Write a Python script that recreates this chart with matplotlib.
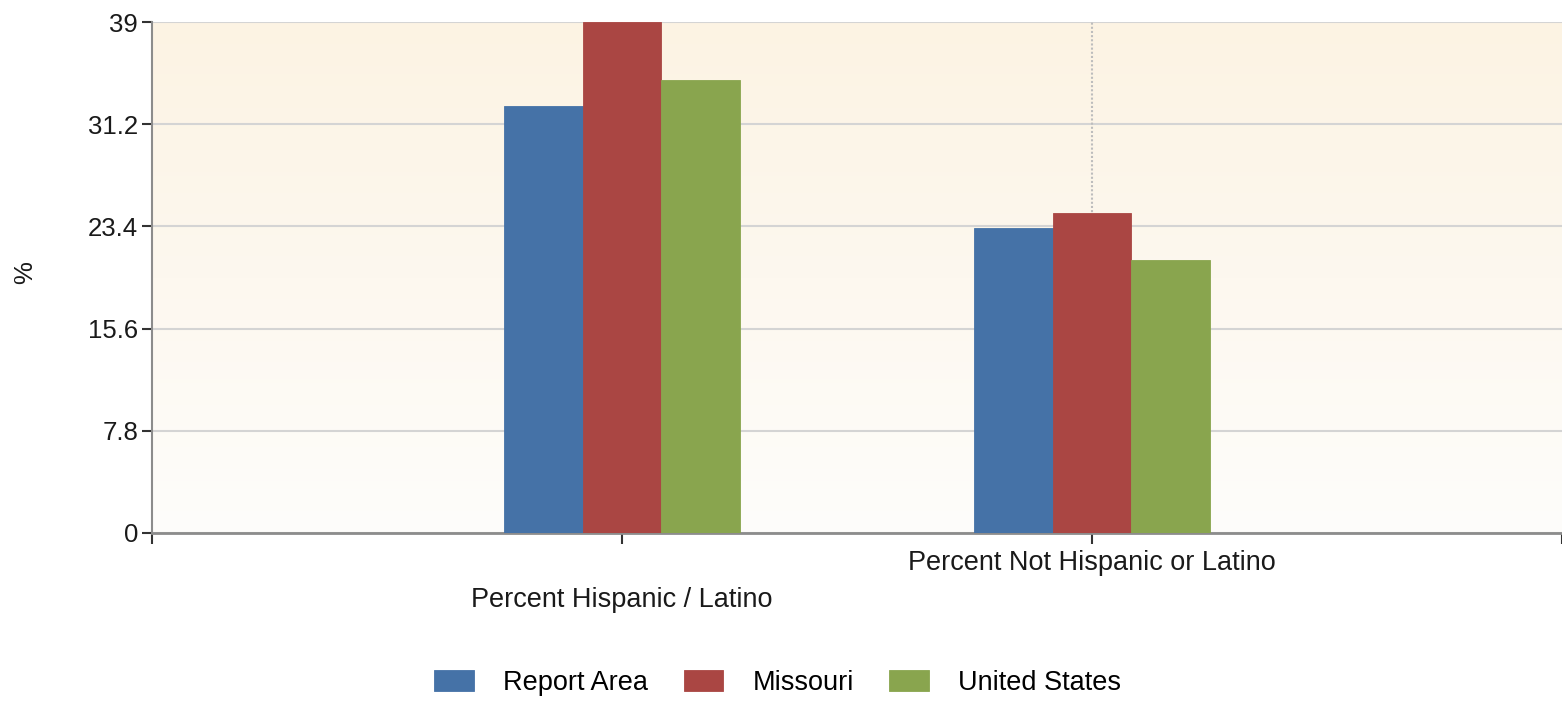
import numpy as np
import matplotlib
matplotlib.use("Agg")
import matplotlib.pyplot as plt
from matplotlib.colors import LinearSegmentedColormap

categories = ["Percent Hispanic / Latino", "Percent Not Hispanic or Latino"]
series_names = ["Report Area", "Missouri", "United States"]
report_area = [32.6, 23.3]
missouri = [39.0, 24.4]
united_states = [34.6, 20.8]
yticks = [0, 7.8, 15.6, 23.4, 31.2, 39]
ytick_labels = ["0", "7.8", "15.6", "23.4", "31.2", "39"]

colors = ["#4572A7", "#AA4643", "#89A54E"]
FS = 18.5
FS2 = 19.5

plt.rcParams['font.family'] = ['Liberation Sans', 'DejaVu Sans']

fig = plt.figure(figsize=(15.62, 7.01), dpi=100)
ax = fig.add_axes([152/1562, 1 - 533/701, 1 - 152/1562, (533 - 22)/701])

# gradient background
cmap = LinearSegmentedColormap.from_list("bg", ["#FEFDFB", "#FCF3E3"])
grad = np.linspace(0, 1, 256).reshape(-1, 1)
ax.imshow(grad, cmap=cmap, aspect='auto', extent=[0, 1, 0, 1],
          transform=ax.transAxes, origin='lower', zorder=0)

x = np.arange(len(categories))
w = 0.167
all_series = [report_area, missouri, united_states]
for i, (vals, name, c) in enumerate(zip(all_series, series_names, colors)):
    ax.bar(x + (i - 1) * w, vals, width=w, color=c, label=name,
           edgecolor=c, linewidth=0.6, zorder=3)

ax.set_ylim(0, 39)
ax.set_xlim(-1, 1.981)
ax.set_yticks(yticks)
ax.set_yticklabels(ytick_labels, fontsize=FS, color="#1a1a1a")
ax.yaxis.grid(True, color="#D4D4D4", linewidth=1.5, zorder=1)
for xi in x:
    ax.axvline(xi, color="#BDBDBD", linestyle=(0, (1, 1)), linewidth=1.5, zorder=1)

ax.set_xticks([-1, 0, 1, 2])
ax.set_xticklabels([])
ax.tick_params(axis='x', direction='out', length=8, width=1.5, color="#333333")
ax.tick_params(axis='y', direction='out', length=7, width=1.5, color="#333333", pad=3)

for s in ['top', 'right']:
    ax.spines[s].set_visible(False)
ax.spines['left'].set_color("#8C8C8C")
ax.spines['left'].set_linewidth(1.5)
ax.spines['bottom'].set_color("#8C8C8C")
ax.spines['bottom'].set_linewidth(2)
ax.set_axisbelow(True)

label_offsets = [-0.131, -0.059]
for xi, lab, off in zip(x, categories, label_offsets):
    ax.text(xi, off, lab, transform=ax.get_xaxis_transform(), ha='center',
            va='center', fontsize=FS2, color="#1a1a1a", clip_on=False)

fig.text(25/1562, 1 - 273/701, "%", rotation=90, ha='center', va='center',
         fontsize=FS, color="#1a1a1a")

fig.legend(loc='center', bbox_to_anchor=(0.498, 1 - 683/701), ncol=3,
           frameon=False, fontsize=FS2, handlelength=1.45, handleheight=0.77,
           handletextpad=1.1, columnspacing=1.3)

fig.savefig("out.png", dpi=100)
